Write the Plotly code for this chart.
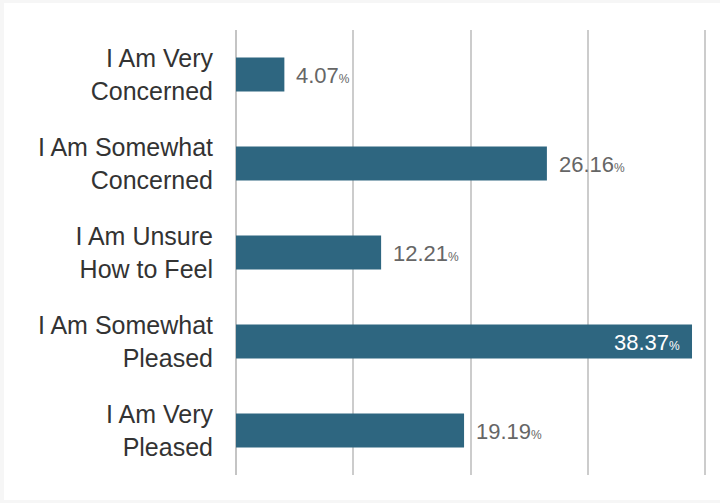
import plotly.graph_objects as go

categories = [
    "I Am Very<br>Concerned",
    "I Am Somewhat<br>Concerned",
    "I Am Unsure<br>How to Feel",
    "I Am Somewhat<br>Pleased",
    "I Am Very<br>Pleased",
]
values = [4.07, 26.16, 12.21, 38.37, 19.19]

BAR_COLOR = "#2e6680"
W, H = 720, 503
ML, MR, MT, MB = 236, 11, 30, 28
GRID_STEP = 9.875
X_MAX = 39.8

fig = go.Figure()
fig.add_trace(go.Bar(
    x=values,
    y=categories,
    orientation="h",
    marker=dict(color=BAR_COLOR, line=dict(width=0)),
    hoverinfo="skip",
))

# value labels: outside the bar, except the longest which sits inside at its end
vmax = max(values)
for cat, v in zip(categories, values):
    inside = v == vmax
    fig.add_annotation(
        x=v, y=cat, xref="x", yref="y",
        text=f"{v:.2f}<span style='font-size:12px'>%</span>",
        showarrow=False,
        xanchor="right" if inside else "left",
        xshift=-10 if inside else 10,
        yshift=-1,
        font=dict(family="Liberation Sans, Arial, sans-serif", size=22,
                  color="#ffffff" if inside else "#666666"),
    )

# white card on a light grey page
pw = W - ML - MR
ph = H - MT - MB
fig.add_shape(
    type="rect", xref="paper", yref="paper", layer="below",
    x0=(4 - ML) / pw, x1=(W + 5 - ML) / pw,
    y0=-(500 - (H - MB)) / ph, y1=1 + (MT - 3) / ph,
    fillcolor="#ffffff", line=dict(width=0),
)

fig.update_layout(
    width=W, height=H,
    margin=dict(l=ML, r=MR, t=MT, b=MB, pad=0),
    paper_bgcolor="#f6f6f6",
    plot_bgcolor="#ffffff",
    bargap=0.62,
    showlegend=False,
    font=dict(family="Liberation Sans, Arial, sans-serif"),
)
fig.update_xaxes(
    range=[0, X_MAX],
    tick0=0, dtick=GRID_STEP,
    showgrid=True, gridcolor="#cccccc", gridwidth=1.5,
    zeroline=True, zerolinecolor="#c4c4c4", zerolinewidth=2,
    showticklabels=False, ticks="",
    showline=False, fixedrange=True,
)
fig.update_yaxes(
    autorange="reversed",
    showgrid=False, zeroline=False, showline=False,
    ticks="", ticklabelstandoff=22,
    tickfont=dict(family="Liberation Sans, Arial, sans-serif", size=25, color="#333333"),
    fixedrange=True,
)

fig.write_html("out.html", config={"displayModeBar": False})
